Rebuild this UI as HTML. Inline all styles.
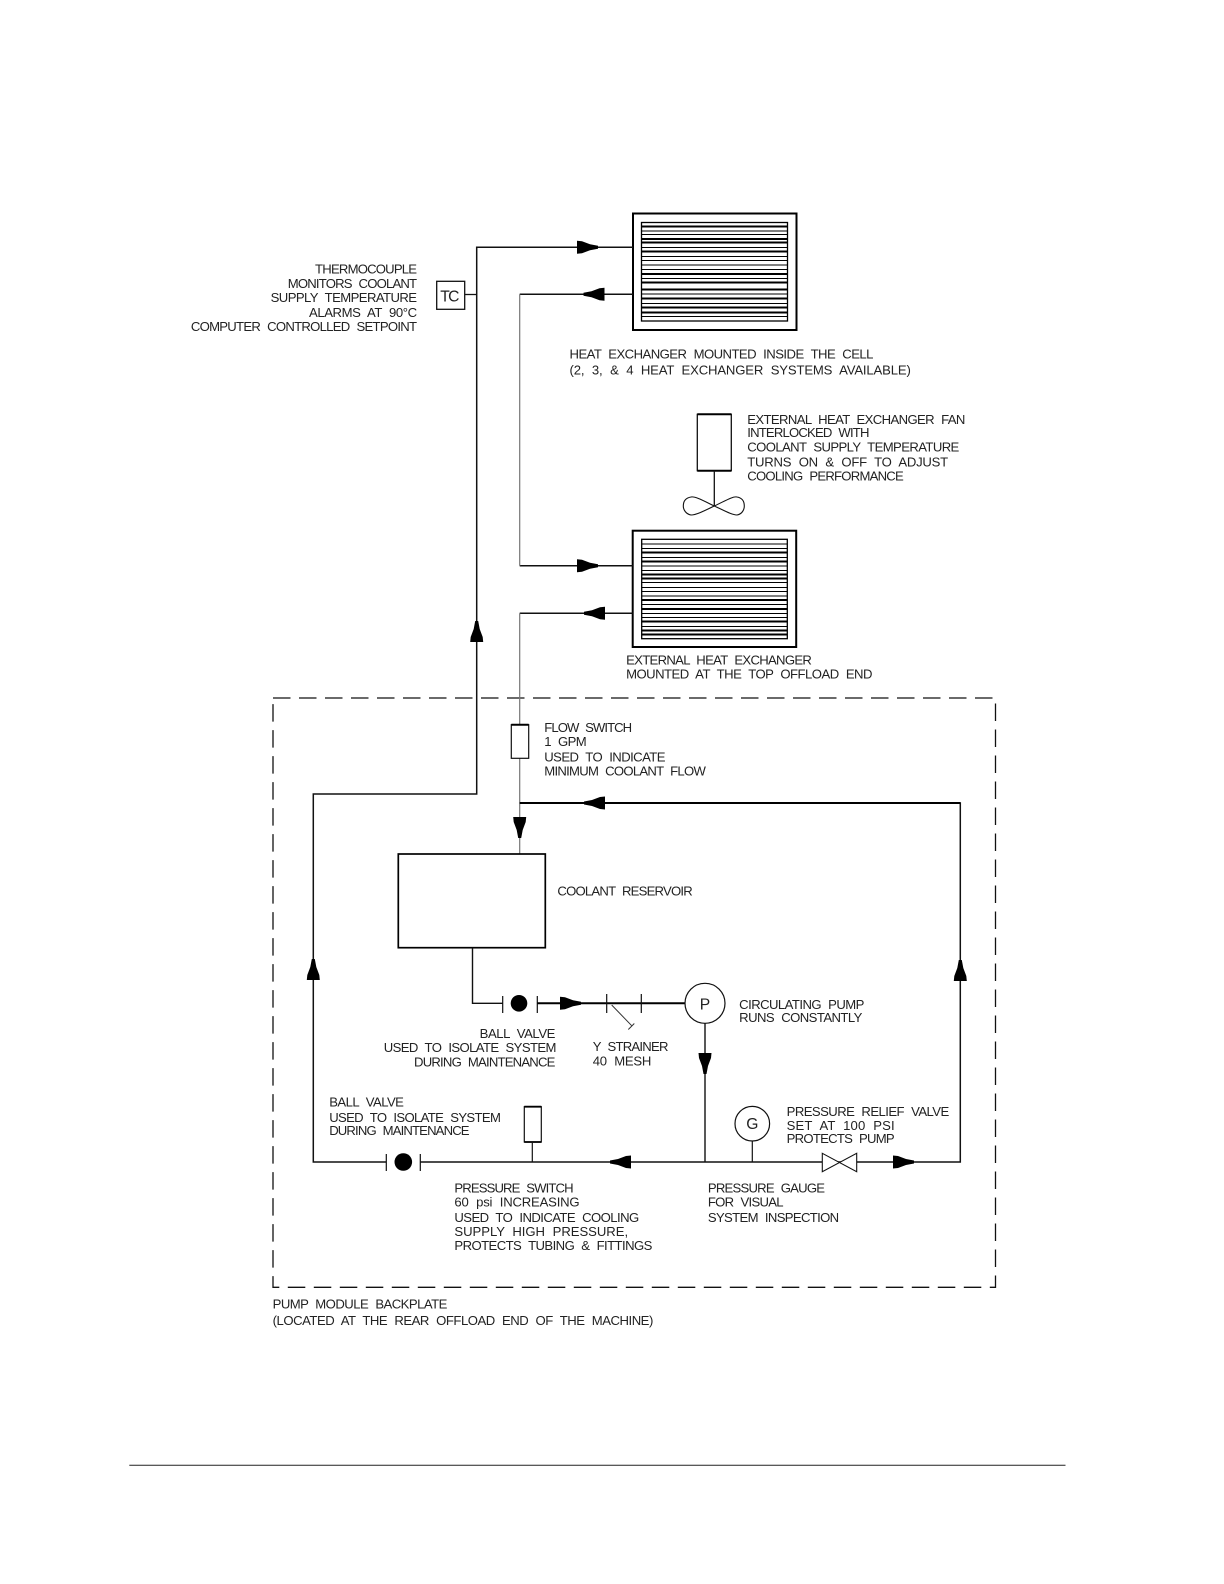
<!DOCTYPE html>
<html>
<head>
<meta charset="utf-8">
<style>
html,body{margin:0;padding:0;background:#fff}
svg{display:block}
text{font-family:"Liberation Sans",sans-serif;font-size:13px;fill:#222;word-spacing:4px}
text.big{font-size:15.5px;word-spacing:0}
</style>
</head>
<body>
<svg width="1224" height="1584" viewBox="0 0 1224 1584" xmlns="http://www.w3.org/2000/svg">
<defs>
<polygon id="a" points="0,-6.5 5,-6 13,-3 21,-1.5 21,1.5 13,3 5,6 0,6.5" fill="#000"/>
</defs>
<rect width="1224" height="1584" fill="#fff"/>

<!-- dashed module -->
<rect x="273" y="698" width="722.5" height="589.3" fill="none" stroke="#111" stroke-width="1.3" stroke-dasharray="17.5 8.5"/>

<!-- heat exchanger top -->
<rect x="633" y="213.5" width="163.5" height="116.5" fill="#fff" stroke="#000" stroke-width="2"/>
<rect x="641.5" y="222.5" width="146" height="98.5" fill="#fff" stroke="#000" stroke-width="1.3"/>
<path shape-rendering="crispEdges" fill="none" stroke="#000" stroke-width="1" d="M641.5 231H787.5M641.5 234.3H787.5M641.5 247.3H787.5M641.5 256.7H787.5M641.5 260.7H787.5M641.5 265H787.5M641.5 269.3H787.5M641.5 278.3H787.5M641.5 294H787.5M641.5 303.3H787.5M641.5 316.7H787.5"/>
<path shape-rendering="crispEdges" fill="none" stroke="#000" stroke-width="2" d="M641.5 226.7H787.5M641.5 239H787.5M641.5 242.7H787.5M641.5 251.7H787.5M641.5 274H787.5M641.5 282.7H787.5M641.5 289.3H787.5M641.5 298.7H787.5M641.5 307.7H787.5M641.5 312.3H787.5"/>

<!-- heat exchanger external -->
<rect x="632.7" y="530.7" width="163.5" height="116.3" fill="#fff" stroke="#000" stroke-width="2"/>
<rect x="641.7" y="539.3" width="145.6" height="99.4" fill="#fff" stroke="#000" stroke-width="1.3"/>
<path shape-rendering="crispEdges" fill="none" stroke="#000" stroke-width="1" d="M641.7 544H787.3M641.7 548.3H787.3M641.7 557.3H787.3M641.7 566H787.3M641.7 570.3H787.3M641.7 582.7H787.3M641.7 587.3H787.3M641.7 591.7H787.3M641.7 596H787.3M641.7 604.3H787.3M641.7 613.3H787.3M641.7 617.3H787.3M641.7 626.7H787.3"/>
<path shape-rendering="crispEdges" fill="none" stroke="#000" stroke-width="2" d="M641.7 552.7H787.3M641.7 561.7H787.3M641.7 574.7H787.3M641.7 578.3H787.3M641.7 600H787.3M641.7 609H787.3M641.7 621.7H787.3M641.7 630.7H787.3M641.7 634.3H787.3"/>

<!-- piping -->
<path fill="none" stroke="#111" stroke-width="1.5" d="M633 247.3H476.7V794H313.3V1162H386.3M420.3 1162H960.3V803H519.7M633 294.3H519.7M633 565.7H519.7M632.7 613.3H519.7"/>
<path fill="none" stroke="#777" stroke-width="1.2" d="M519.7 294.3V565.7M519.7 613.3V724.7M519.7 758.3V854"/>
<path fill="none" stroke="#000" stroke-width="2" d="M519.7 803H960.3"/>

<!-- TC -->
<rect x="436.7" y="281.3" width="28" height="28" fill="#fff" stroke="#111" stroke-width="1.3"/>
<path d="M464.7 294.5H476.7" stroke="#111" stroke-width="1.3"/>

<!-- fan -->
<rect x="697.3" y="414.3" width="34" height="56.4" fill="#fff" stroke="#111" stroke-width="1.3"/>
<path d="M697.3 414.3H731.3M697.3 470.7H731.3" stroke="#000" stroke-width="2"/>
<path d="M714.3 470.7V506" stroke="#111" stroke-width="1.3"/>
<path fill="none" stroke="#111" stroke-width="1.1" d="M714.3 506C704 501 695 496 691 497C685 498 683.3 502 683.3 506C683.3 510 686 514 691 515C696 515 704 511 714.3 506C725 501 733 496 737 497C743 498 744.3 502 744.3 506C744.3 510 742 514 737 515C732 515 725 511 714.3 506Z"/>

<!-- flow switch -->
<rect x="511.3" y="724.7" width="17.4" height="33.6" fill="#fff" stroke="#111" stroke-width="1.2"/>
<path d="M511.3 724.7H528.7" stroke="#000" stroke-width="2"/>

<!-- reservoir -->
<rect x="398.3" y="854" width="147" height="93.7" fill="#fff" stroke="#000" stroke-width="1.7"/>
<path d="M472.5 947.7V1003.3H502.7" fill="none" stroke="#111" stroke-width="1.4"/>

<!-- upper ball valve + strainer + pump -->
<path d="M502.7 996V1013M537.3 996V1013" stroke="#111" stroke-width="1.2"/>
<circle cx="519" cy="1003.3" r="8.3" fill="#000"/>
<path d="M537.3 1003.3H685" stroke="#000" stroke-width="2"/>
<path d="M606.7 994V1013M641.3 994V1013" stroke="#111" stroke-width="1.2"/>
<path d="M611.7 1005L631.7 1025.7M628.3 1029.5L634.3 1023.5" fill="none" stroke="#333" stroke-width="1"/>
<circle cx="705" cy="1003.3" r="20" fill="#fff" stroke="#111" stroke-width="1.2"/>
<path d="M705 1023.3V1162" stroke="#111" stroke-width="1.4"/>

<!-- lower ball valve -->
<path d="M386.3 1154V1171M420.3 1154V1171" stroke="#111" stroke-width="1.2"/>
<circle cx="403.3" cy="1162" r="8.8" fill="#000"/>

<!-- pressure switch -->
<rect x="524.3" y="1106.7" width="17" height="35.3" fill="#fff" stroke="#111" stroke-width="1.2"/>
<path d="M524.3 1106.7H541.3M524.3 1142H541.3" stroke="#000" stroke-width="1.8"/>
<path d="M532.3 1142V1162" stroke="#111" stroke-width="1.2"/>

<!-- gauge -->
<circle cx="752.3" cy="1123.7" r="17.3" fill="#fff" stroke="#111" stroke-width="1.2"/>
<path d="M752.3 1141V1162" stroke="#111" stroke-width="1.2"/>

<!-- relief valve -->
<path d="M822.3 1153.3L856.7 1171.7V1153.3L822.3 1171.7Z" fill="#fff" stroke="#111" stroke-width="1.1"/>

<!-- arrowheads -->
<use href="#a" transform="translate(577,247.3)"/>
<use href="#a" transform="translate(604.5,294.3) rotate(180)"/>
<use href="#a" transform="translate(577,565.7)"/>
<use href="#a" transform="translate(605,613.3) rotate(180)"/>
<use href="#a" transform="translate(476.7,642) rotate(-90)"/>
<use href="#a" transform="translate(519.7,817) rotate(90)"/>
<use href="#a" transform="translate(605,803) rotate(180)"/>
<use href="#a" transform="translate(960.3,981) rotate(-90)"/>
<use href="#a" transform="translate(313.3,980) rotate(-90)"/>
<use href="#a" transform="translate(560,1003.3)"/>
<use href="#a" transform="translate(705,1053) rotate(90)"/>
<use href="#a" transform="translate(631,1162) rotate(180)"/>
<use href="#a" transform="translate(893,1162)"/>

<!-- footer rule -->
<path d="M129.3 1465.2H1065.5" stroke="#222" stroke-width="1"/>

<!-- labels -->
<g transform="scale(1.0098)">
<text x="312" y="271" textLength="101">THERMOCOUPLE</text>
<text x="285" y="285" textLength="128">MONITORS COOLANT</text>
<text x="268" y="299" textLength="145">SUPPLY TEMPERATURE</text>
<text x="306" y="314" textLength="107">ALARMS AT 90°C</text>
<text x="189" y="328" textLength="224">COMPUTER CONTROLLED SETPOINT</text>
<text class="big" x="436" y="298.5" textLength="19">TC</text>
<text x="564" y="355" textLength="301">HEAT EXCHANGER MOUNTED INSIDE THE CELL</text>
<text x="564" y="371" textLength="338">(2, 3, &amp; 4 HEAT EXCHANGER SYSTEMS AVAILABLE)</text>
<text x="740" y="420" textLength="216">EXTERNAL HEAT EXCHANGER FAN</text>
<text x="740" y="433" textLength="121">INTERLOCKED WITH</text>
<text x="740" y="447" textLength="210">COOLANT SUPPLY TEMPERATURE</text>
<text x="740" y="462" textLength="199">TURNS ON &amp; OFF TO ADJUST</text>
<text x="740" y="476" textLength="155">COOLING PERFORMANCE</text>
<text x="620" y="658" textLength="184">EXTERNAL HEAT EXCHANGER</text>
<text x="620" y="672" textLength="244">MOUNTED AT THE TOP OFFLOAD END</text>
<text x="539" y="725" textLength="87">FLOW SWITCH</text>
<text x="539" y="739" textLength="42">1 GPM</text>
<text x="539" y="754" textLength="120">USED TO INDICATE</text>
<text x="539" y="768" textLength="160">MINIMUM COOLANT FLOW</text>
<text x="552" y="887" textLength="134">COOLANT RESERVOIR</text>
<text x="475" y="1028" textLength="75">BALL VALVE</text>
<text x="380" y="1042" textLength="171">USED TO ISOLATE SYSTEM</text>
<text x="410" y="1056" textLength="140">DURING MAINTENANCE</text>
<text x="587" y="1041" textLength="75">Y STRAINER</text>
<text x="587" y="1055" textLength="58">40 MESH</text>
<text class="big" x="693" y="999.5">P</text>
<text x="732" y="999" textLength="124">CIRCULATING PUMP</text>
<text x="732" y="1012" textLength="122">RUNS CONSTANTLY</text>
<text x="326" y="1096" textLength="74">BALL VALVE</text>
<text x="326" y="1111" textLength="170">USED TO ISOLATE SYSTEM</text>
<text x="326" y="1124" textLength="139">DURING MAINTENANCE</text>
<text class="big" x="739" y="1118">G</text>
<text x="779" y="1105" textLength="161">PRESSURE RELIEF VALVE</text>
<text x="779" y="1119" textLength="107">SET AT 100 PSI</text>
<text x="779" y="1132" textLength="107">PROTECTS PUMP</text>
<text x="450" y="1181" textLength="118">PRESSURE SWITCH</text>
<text x="450" y="1195" textLength="124">60 psi INCREASING</text>
<text x="450" y="1210" textLength="183">USED TO INDICATE COOLING</text>
<text x="450" y="1224" textLength="172">SUPPLY HIGH PRESSURE,</text>
<text x="450" y="1238" textLength="196">PROTECTS TUBING &amp; FITTINGS</text>
<text x="701" y="1181" textLength="116">PRESSURE GAUGE</text>
<text x="701" y="1195" textLength="75">FOR VISUAL</text>
<text x="701" y="1210" textLength="130">SYSTEM INSPECTION</text>
<text x="270" y="1296" textLength="173">PUMP MODULE BACKPLATE</text>
<text x="270" y="1312" textLength="377">(LOCATED AT THE REAR OFFLOAD END OF THE MACHINE)</text>
</g>
</svg>
</body>
</html>
